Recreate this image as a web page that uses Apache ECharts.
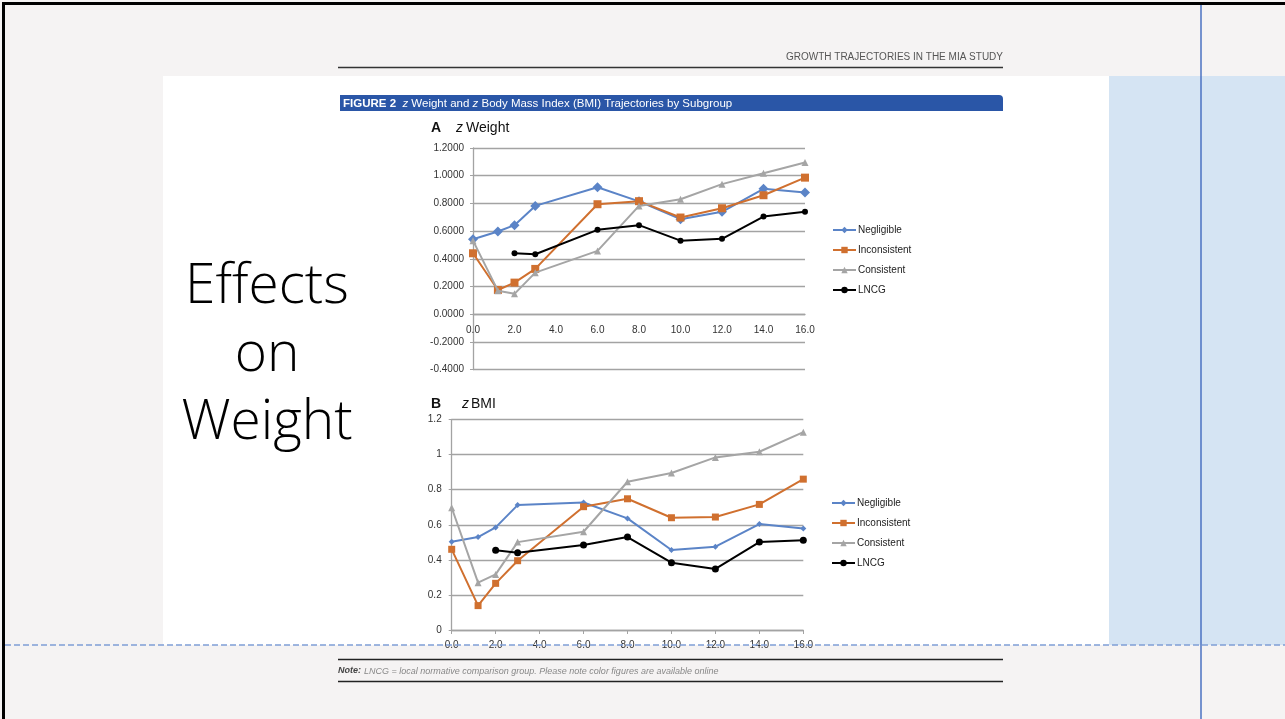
<!DOCTYPE html>
<html>
<head>
<meta charset="utf-8">
<script src="https://cdn.jsdelivr.net/npm/echarts@6/dist/echarts.min.js"></script>
<style>
  html, body { margin: 0; padding: 0; background: #f5f3f3; }
  #chart { width: 1285px; height: 719px; }
</style>
</head>
<body>
<div id="chart"></div>
<script>
// Age at measurement (years), shared by every subgroup
const ages = [0, 1.2, 2, 3, 6, 8, 10, 12, 14, 16];
const seriesNames = ['Negligible', 'Inconsistent', 'Consistent', 'LNCG'];

// Panel A: z weight
const weightNegligible   = [0.541, 0.597, 0.643, 0.782, 0.917, 0.815, 0.686, 0.739, 0.905, 0.878];
const weightInconsistent = [0.440, 0.175, 0.228, 0.327, 0.794, 0.816, 0.698, 0.765, 0.859, 0.986];
const weightConsistent   = [0.531, 0.170, 0.147, 0.300, 0.457, 0.782, 0.830, 0.939, 1.018, 1.095];
const weightLNCG         = [null, null, 0.440, 0.433, 0.609, 0.643, 0.531, 0.544, 0.705, 0.739];

// Panel B: z BMI
const bmiNegligible   = [0.503, 0.530, 0.585, 0.712, 0.727, 0.636, 0.456, 0.475, 0.604, 0.579];
const bmiInconsistent = [0.460, 0.139, 0.266, 0.395, 0.703, 0.748, 0.640, 0.644, 0.716, 0.860];
const bmiConsistent   = [0.697, 0.270, 0.317, 0.501, 0.560, 0.845, 0.895, 0.984, 1.016, 1.128];
const bmiLNCG         = [null, null, 0.454, 0.441, 0.484, 0.530, 0.384, 0.348, 0.501, 0.511];

// Axis ranges
const weightMin = -0.4, weightMax = 1.2;
const bmiMin = 0, bmiMax = 1.2;

const colors = ['#5b84c7', '#d0702f', '#a5a5a5', '#000000'];
const symbols = ['diamond', 'rect', 'triangle', 'circle'];
const sizesA = [10, 8, 7, 6];
const sizesB = [6, 7, 7, 7];

function pairs(values) {
  const out = [];
  values.forEach((v, i) => { if (v !== null) out.push([ages[i], v]); });
  return out;
}

function makeSeries(valuesList, idx, sizes) {
  return valuesList.map((vals, k) => ({
    name: seriesNames[k],
    type: 'line',
    xAxisIndex: idx,
    yAxisIndex: idx,
    data: pairs(vals),
    symbol: symbols[k],
    symbolSize: sizes[k],
    lineStyle: { color: colors[k], width: 2 },
    itemStyle: { color: colors[k] },
    z: 5 + k,
    silent: true
  }));
}

const font = 'Liberation Sans, Arial, sans-serif';
const headFont = '300 55px "Open Sans", sans-serif';
const gridColor = '#a3a3a3';

// plot area of panel A; its horizontal axis sits on the zero line
const gridA = { left: 473, top: 148, width: 332, height: 221.6 };
const zeroLift = gridA.height * (0 - weightMin) / (weightMax - weightMin);

function txt(x, y, text, f, fill, align) {
  return { type: 'text', z: 20, style: { x: x, y: y, text: text, font: f, fill: fill || '#111', textAlign: align || 'left', textVerticalAlign: 'middle' } };
}

const chart = echarts.init(document.getElementById('chart'));

const option = {
  animation: false,
  backgroundColor: '#f5f3f3',
  graphic: [
    // page panels
    { type: 'rect', z: -10, shape: { x: 163, y: 76, width: 946, height: 569 }, style: { fill: '#ffffff' } },
    { type: 'rect', z: -10, shape: { x: 1109, y: 76, width: 176, height: 569 }, style: { fill: '#d5e4f3' } },
    // frame
    { type: 'rect', z: 50, shape: { x: 2, y: 2, width: 1283, height: 3 }, style: { fill: '#000' } },
    { type: 'rect', z: 50, shape: { x: 2, y: 2, width: 3, height: 717 }, style: { fill: '#000' } },
    { type: 'line', z: 50, shape: { x1: 1201, y1: 5, x2: 1201, y2: 719 }, style: { stroke: '#4a72c2', lineWidth: 1.5 } },
    { type: 'line', z: 50, shape: { x1: 5, y1: 645, x2: 1285, y2: 645 }, style: { stroke: '#7f9fd6', lineWidth: 1.5, lineDash: [6, 3] } },
    // running head
    txt(1003, 57, 'GROWTH TRAJECTORIES IN THE MIA STUDY', '10px ' + font, '#555', 'right'),
    { type: 'line', z: 20, shape: { x1: 338, y1: 67.5, x2: 1003, y2: 67.5 }, style: { stroke: '#333', lineWidth: 1.5 } },
    // figure caption bar
    { type: 'rect', z: 20, shape: { x: 340, y: 95, width: 663, height: 16, r: [0, 4, 0, 0] }, style: { fill: '#2a56a7' } },
    { type: 'text', z: 21, style: {
        x: 343, y: 103.5, textVerticalAlign: 'middle',
        text: '{b|FIGURE 2}  {i|z} Weight and {i|z} Body Mass Index (BMI) Trajectories by Subgroup',
        font: '11.5px ' + font, fill: '#fff',
        rich: { b: { fontWeight: 'bold', fontSize: 11.5, fill: '#fff', fontFamily: font }, i: { fontStyle: 'italic', fontSize: 11.5, fill: '#fff', fontFamily: font } }
    } },
    // panel titles
    txt(431, 128, 'A', 'bold 14px ' + font),
    txt(456, 128, 'z', 'italic 14px ' + font),
    txt(466, 128, 'Weight', '14px ' + font),
    txt(431, 404, 'B', 'bold 14px ' + font),
    txt(462, 404, 'z', 'italic 14px ' + font),
    txt(471, 404, 'BMI', '14px ' + font),
    // footnote
    { type: 'line', z: 20, shape: { x1: 338, y1: 659.5, x2: 1003, y2: 659.5 }, style: { stroke: '#222', lineWidth: 1.3 } },
    txt(338, 671, 'Note:', 'italic bold 9px ' + font, '#444'),
    txt(364, 671, 'LNCG = local normative comparison group. Please note color figures are available online', 'italic 9px ' + font, '#888'),
    { type: 'line', z: 20, shape: { x1: 338, y1: 681.5, x2: 1003, y2: 681.5 }, style: { stroke: '#222', lineWidth: 1.3 } },
    // slide heading
    txt(267, 287, 'Effects', headFont, '#000', 'center'),
    txt(267, 355, 'on', headFont, '#000', 'center'),
    txt(267, 423, 'Weight', headFont, '#000', 'center')
  ],
  legend: [
    {
      left: 832, top: 225, padding: 0, orient: 'vertical', selectedMode: false,
      itemWidth: 23, itemHeight: 8, itemGap: 10,
      textStyle: { fontSize: 10, fontFamily: font, color: '#222', lineHeight: 10, padding: [0, 0, 0, -3] },
      data: seriesNames
    },
    {
      left: 831, top: 498, padding: 0, orient: 'vertical', selectedMode: false,
      itemWidth: 23, itemHeight: 8, itemGap: 10,
      textStyle: { fontSize: 10, fontFamily: font, color: '#222', lineHeight: 10, padding: [0, 0, 0, -3] },
      data: seriesNames
    }
  ],
  grid: [
    gridA,
    { left: 451.7, top: 419.5, width: 351.6, height: 210.5 }
  ],
  xAxis: [
    {
      gridIndex: 0, type: 'value', min: 0, max: 16, interval: 2, z: 3,
      position: 'bottom', offset: -zeroLift,
      axisLine: { onZero: false, lineStyle: { color: gridColor, width: 1.3 } },
      axisTick: { show: false },
      splitLine: { show: false },
      axisLabel: { formatter: v => v.toFixed(1), fontSize: 10, fontFamily: font, color: '#333', margin: 11 }
    },
    {
      gridIndex: 1, type: 'value', min: 0, max: 16, interval: 2, z: 3,
      axisLine: { lineStyle: { color: gridColor, width: 1.3 } },
      axisTick: { show: true, length: 4, lineStyle: { color: gridColor } },
      splitLine: { show: false },
      axisLabel: { formatter: v => v.toFixed(1), fontSize: 10, fontFamily: font, color: '#333', margin: 10 }
    }
  ],
  yAxis: [
    {
      gridIndex: 0, type: 'value', min: weightMin, max: weightMax, interval: 0.2, z: 3,
      axisLine: { show: true, onZero: false, lineStyle: { color: gridColor, width: 1.3 } },
      axisTick: { show: true, length: 3, lineStyle: { color: gridColor } },
      splitLine: { show: true, lineStyle: { color: gridColor, width: 1.3 } },
      axisLabel: { formatter: v => v.toFixed(4), fontSize: 10, fontFamily: font, color: '#333', margin: 9 }
    },
    {
      gridIndex: 1, type: 'value', min: bmiMin, max: bmiMax, interval: 0.2, z: 3,
      axisLine: { show: true, onZero: false, lineStyle: { color: gridColor, width: 1.3 } },
      axisTick: { show: true, length: 3, lineStyle: { color: gridColor } },
      splitLine: { show: true, lineStyle: { color: gridColor, width: 1.3 } },
      axisLabel: { formatter: v => String(+v.toFixed(1)), fontSize: 10, fontFamily: font, color: '#333', margin: 10 }
    }
  ],
  series: [
    ...makeSeries([weightNegligible, weightInconsistent, weightConsistent, weightLNCG], 0, sizesA),
    ...makeSeries([bmiNegligible, bmiInconsistent, bmiConsistent, bmiLNCG], 1, sizesB)
  ]
};

chart.setOption(option);
</script>
</body>
</html>
